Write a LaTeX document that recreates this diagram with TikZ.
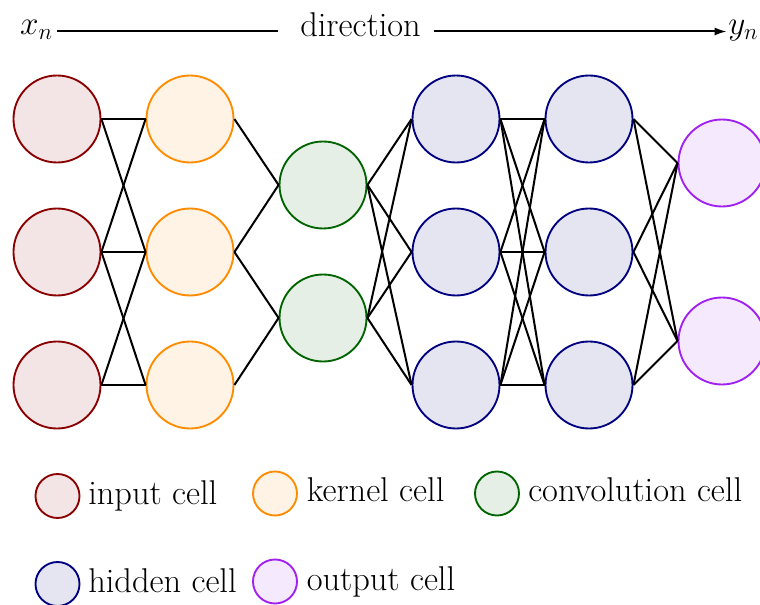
\documentclass[tikz,border=0pt]{standalone}
\usetikzlibrary{arrows.meta,calc}

% cell colours: border colour, fill is a 10% tint
\definecolor{inputc}{RGB}{139,0,0}
\definecolor{kernelc}{RGB}{255,140,0}
\definecolor{convc}{RGB}{0,100,0}
\definecolor{hiddenc}{RGB}{0,0,128}
\definecolor{outputc}{RGB}{160,32,240}

\begin{document}
\begin{tikzpicture}[x=0.75pt,y=-0.75pt,
  font=\fontsize{25.8}{30}\selectfont,
  cell/.style={circle,inner sep=0pt,minimum size=65.25pt,line width=1.4pt},
  key/.style={circle,inner sep=0pt,minimum size=33pt,line width=1.4pt},
  inputcell/.style={draw=inputc,fill=inputc!10},
  kernelcell/.style={draw=kernelc,fill=kernelc!10},
  convcell/.style={draw=convc,fill=convc!10},
  hiddencell/.style={draw=hiddenc,fill=hiddenc!10},
  outputcell/.style={draw=outputc,fill=outputc!10},
  link/.style={line width=1.5pt},
  keytext/.style={anchor=base west,inner sep=0pt}]
\useasboundingbox (0,0) rectangle (760,605);

% direction header
\node[anchor=mid east,inner sep=0pt,font=\fontsize{27}{30}\selectfont] (xn) at (53,31.5) {$x_n$};
\node[anchor=mid west,inner sep=0pt,font=\fontsize{27}{30}\selectfont] (yn) at (728,31.5) {$y_n$};
\node[anchor=mid,inner sep=0pt] (dir) at (360.5,34) {direction};
\draw[link,shorten <=3pt,shorten >=16.5pt] (xn.mid east) -- (xn.mid east -| dir.west);
\draw[link,-{Latex[length=9pt,width=6pt]},shorten <=9.75pt,shorten >=1pt] (yn.mid west -| dir.east) -- (yn.mid west);

% layers
\foreach \n/\y in {1/119,2/252,3/385} {
  \node[cell,inputcell]  (i\n) at (57,\y)  {};
  \node[cell,kernelcell] (k\n) at (190,\y) {};
  \node[cell,hiddencell] (h\n) at (456,\y) {};
  \node[cell,hiddencell] (g\n) at (589,\y) {};
}
\node[cell,convcell] (c1) at (323,185) {};
\node[cell,convcell] (c2) at (323,318) {};
\node[cell,outputcell] (o1) at (722,163) {};
\node[cell,outputcell] (o2) at (722,341) {};

% connections
\foreach \a/\b in {i1/k1,i1/k2,i2/k1,i2/k2,i2/k3,i3/k2,i3/k3,
                   k1/c1,k2/c1,k2/c2,k3/c2}
  \draw[link] (\a.east) -- (\b.west);
\foreach \a in {c1,c2} \foreach \b in {h1,h2,h3}
  \draw[link] (\a.east) -- (\b.west);
\foreach \a in {h1,h2,h3} \foreach \b in {g1,g2,g3}
  \draw[link] (\a.east) -- (\b.west);
\foreach \a in {g1,g2,g3} \foreach \b in {o1,o2}
  \draw[link] (\a.east) -- (\b.west);

% legend
\node[key,inputcell]  (ki) at (57.5,496) {};
\node[key,kernelcell] (kk) at (275,493.5) {};
\node[key,convcell]   (kc) at (497,493.5) {};
\node[key,hiddencell] (kh) at (57.5,584) {};
\node[key,outputcell] (ko) at (275,581.5) {};
\node[keytext] (ti) at ($(ki.center)+(30.5,8.5)$) {input cell};
\node[keytext] (tk) at ($(kk.center)+(31.5,8.5)$) {kernel cell};
\node[keytext] (tc) at ($(kc.center)+(31,8.5)$) {convolution cell};
\node[keytext] (th) at ($(kh.center)+(30.5,8.5)$) {hidden cell};
\node[keytext] (to) at ($(ko.center)+(31.5,8.5)$) {output cell};
\end{tikzpicture}
\end{document}
